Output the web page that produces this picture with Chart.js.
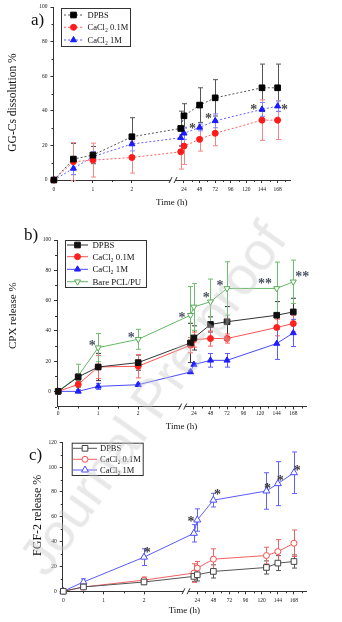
<!DOCTYPE html>
<html>
<head>
    <title>GG-Cs dissolution and release</title>
    <script src="https://cdn.jsdelivr.net/npm/chart.js"></script>
    <style>
        body {
            margin: 0;
            width: 342px;
            height: 622px;
            position: relative;
            overflow: hidden;
            background: #fff;
            font-family: "Liberation Serif", serif;
        }
        canvas {
            position: absolute;
            left: 0;
        }
        .tag {
            position: absolute;
            font: 17px "Liberation Serif", serif;
            color: #111;
            line-height: 1;
        }
        #mark {
            position: absolute;
            left: 152px;
            top: 398px;
            transform: translate(-50%, -50%) rotate(-54.5deg);
            font: 54px "Liberation Sans", sans-serif;
            color: rgba(200, 200, 200, 0.42);
            white-space: nowrap;
            pointer-events: none;
        }
    </style>
</head>
<body>
    <canvas id="chartA" width="342" height="210" style="top:0"></canvas>
    <canvas id="chartB" width="342" height="212" style="top:220px"></canvas>
    <canvas id="chartC" width="342" height="186" style="top:436px"></canvas>
    <div class="tag" style="left:31px; top:11px">a)</div>
    <div class="tag" style="left:24px; top:226px">b)</div>
    <div class="tag" style="left:29px; top:446px">c)</div>
    <div id="mark">Journal Pre-proof</div>

    <script>
        // shared time axis
        const xTickHours = [0, 1, 2, 24, 48, 72, 96, 120, 144, 168];
        const xTickLabels = ["0", "1", "2", "24", "48", "72", "96", "120", "144", "168"];
        const xMinorHours = [0.5, 1.5, 36, 60, 84, 108, 132, 156, 180];
        const seriesNames = ["DPBS", "CaCl\u2082 0.1M", "CaCl\u2082 1M"];
        const bareName = "Bare PCL/PU";

        // a) GG-Cs dissolution %
        const hoursA = [0, 0.5, 1, 2, 19, 24, 48, 72, 144, 168];
        const dpbsA = [0, 12.1, 14.4, 25, 29.8, 37.1, 43.3, 47.5, 53.3, 53.3];
        const dpbsErrA = [0, 9, 5, 11, 10, 7, 10, 10.5, 13.7, 13.7];
        const ca01A = [0, 10.6, 11.5, 13, 16.3, 19.6, 23.5, 27, 34.6, 34.6];
        const ca01ErrA = [0, 11, 9.8, 9, 10, 10.6, 6.8, 7.2, 11.7, 11.2];
        const ca1A = [0, 6.7, 13.5, 20.8, 24.4, 27, 30.4, 34.2, 40.8, 42.7];
        const ca1ErrA = [0, 3.5, 3, 4, 5, 3.5, 2, 4, 4, 3];
        const starIdxA = [6, 7, 8, 9];
        const starTextA = ["*", "*", "*", "*"];

        // b) CPX release %
        const hoursB = [0, 0.5, 1, 2, 19, 24, 48, 72, 144, 168];
        const dpbsB = [0, 9.5, 16.1, 19, 32, 35.3, 44.2, 46, 50.3, 52.5];
        const dpbsErrB = [0, 2, 9, 5, 13, 8, 5, 10, 9, 9];
        const ca01B = [0, 4.6, 16.1, 16.6, 30.5, 34.2, 34.9, 34.9, 42.2, 44.8];
        const ca01ErrB = [0, 2, 7.7, 7.7, 5, 5, 5, 3, 5.5, 5.5];
        const ca1B = [0, 0, 3.3, 4.4, 12.8, 17.7, 20.5, 20.5, 31.6, 38.6];
        const ca1ErrB = [0, 1, 2, 1, 1, 1, 4.5, 4.5, 10.5, 9];
        const bareB = [0, 10.2, 28.9, 34.4, 50.3, 55.8, 59.2, 68, 68, 72.4];
        const bareErrB = [0, 7.7, 9.3, 6.6, 19, 15.5, 15, 17.6, 17.4, 14.3];
        const starIdxB = [2, 3, 4, 6, 7, 8, 9];
        const starTextB = ["*", "*", "*", "*", "*", "**", "**"];

        // c) FGF-2 release %
        const hoursC = [0, 0.5, 2, 19, 24, 48, 127, 144, 168];
        const dpbsC = [0, 3.5, 7.5, 12, 13.3, 16, 19.2, 22.7, 24];
        const dpbsErrC = [0, 1.5, 2, 4, 5, 5.3, 5.3, 6, 5.3];
        const ca01C = [0, 3.5, 9, 14.7, 18.7, 25.9, 28.8, 32, 38.7];
        const ca01ErrC = [0, 1.5, 2.5, 7.5, 5.3, 8.3, 6.7, 9.6, 10.7];
        const ca1C = [0, 7.5, 27.5, 46.7, 57.4, 73.4, 80.8, 86.7, 95.5];
        const ca1ErrC = [0, 2.5, 6.7, 7, 9, 5.5, 14.7, 17.7, 16.7];
        const starIdxC = [2, 4, 5, 6, 7, 8];
        const starTextC = ["*", "*", "*", "*", "*", "*"];

        const serif = '"Liberation Serif", serif';
        const tickFont = { family: serif, size: 5.5 };

        // broken time axis: 0-2 h linear, then 24 h steps after the gap
        function hourToU(t, ax) {
            return t <= 2 ? t : ax.gap + (t - 24) / 24 * ax.step;
        }

        function points(hours, values, ax) {
            return hours.map((h, i) => ({ x: hourToU(h, ax), y: values[i] }));
        }

        const errorBars = {
            id: "errorBars",
            beforeDatasetsDraw(chart) {
                const ctx = chart.ctx;
                const yScale = chart.scales.y;
                chart.data.datasets.forEach((ds, i) => {
                    if (!ds.err) return;
                    const meta = chart.getDatasetMeta(i);
                    ctx.save();
                    ctx.strokeStyle = ds.errColor;
                    ctx.lineWidth = 1;
                    meta.data.forEach((pt, j) => {
                        const e = ds.err[j];
                        if (!e) return;
                        const v = ds.data[j].y;
                        const top = yScale.getPixelForValue(v + e);
                        const bot = yScale.getPixelForValue(v - e);
                        const x = Math.round(pt.x) + 0.5;
                        ctx.beginPath();
                        ctx.moveTo(x, top); ctx.lineTo(x, bot);
                        ctx.moveTo(x - 2.5, top); ctx.lineTo(x + 2.5, top);
                        ctx.moveTo(x - 2.5, bot); ctx.lineTo(x + 2.5, bot);
                        ctx.stroke();
                    });
                    ctx.restore();
                });
            }
        };

        // minor ticks, the "//" axis break and the y title
        const axisExtras = {
            id: "axisExtras",
            afterDraw(chart, args, o) {
                const ctx = chart.ctx;
                const xs = chart.scales.x, ys = chart.scales.y;
                const area = chart.chartArea;
                ctx.save();
                ctx.strokeStyle = "#333";
                ctx.lineWidth = 1;
                ctx.beginPath();
                o.minorX.forEach(u => {
                    if (u > xs.max) return;
                    const px = Math.round(xs.getPixelForValue(u)) + 0.5;
                    ctx.moveTo(px, area.bottom); ctx.lineTo(px, area.bottom + 2);
                });
                o.minorY.forEach(v => {
                    const py = Math.round(ys.getPixelForValue(v)) + 0.5;
                    ctx.moveTo(area.left, py); ctx.lineTo(area.left - 2, py);
                });
                ctx.stroke();

                const bx = xs.getPixelForValue(o.breakU);
                const by = area.bottom;
                ctx.fillStyle = "#fff";
                ctx.fillRect(bx - 2, by - 2, 4, 4);
                ctx.beginPath();
                ctx.moveTo(bx - 4, by + 3); ctx.lineTo(bx - 1, by - 3);
                ctx.moveTo(bx + 1, by + 3); ctx.lineTo(bx + 4, by - 3);
                ctx.stroke();

                ctx.translate(o.titleX, (area.top + area.bottom) / 2 + o.titleShift);
                ctx.rotate(-Math.PI / 2);
                ctx.fillStyle = "#111";
                ctx.font = o.titleSize + "px " + serif;
                ctx.textAlign = "center";
                ctx.textBaseline = "middle";
                ctx.fillText(o.title, 0, 0);
                ctx.restore();
            }
        };

        const boxLegend = {
            id: "boxLegend",
            afterDraw(chart, args, o) {
                const ctx = chart.ctx;
                ctx.save();
                ctx.strokeStyle = "#333";
                ctx.lineWidth = 1;
                ctx.strokeRect(o.box[0] + 0.5, o.box[1] + 0.5, o.box[2], o.box[3]);
                chart.data.datasets.forEach((ds, i) => {
                    const y = o.rows[i];
                    ctx.strokeStyle = ds.borderColor;
                    ctx.setLineDash(ds.borderDash || []);
                    ctx.beginPath();
                    ctx.moveTo(o.line[0], y); ctx.lineTo(o.line[1], y);
                    ctx.stroke();
                    ctx.setLineDash([]);
                    ctx.fillStyle = ds.pointBackgroundColor;
                    ctx.strokeStyle = ds.pointBorderColor;
                    ctx.lineWidth = ds.pointBorderWidth;
                    Chart.helpers.drawPoint(ctx, {
                        pointStyle: ds.pointStyle,
                        rotation: ds.pointRotation || 0,
                        radius: ds.pointRadius,
                        borderWidth: ds.pointBorderWidth
                    }, (o.line[0] + o.line[1]) / 2, y);
                    ctx.lineWidth = 1;
                    ctx.fillStyle = "#111";
                    ctx.font = o.fontSize + "px " + serif;
                    ctx.textBaseline = "middle";
                    ctx.fillText(ds.label, o.textX, y + 0.5);
                });
                ctx.restore();
            }
        };

        const stars = {
            id: "stars",
            afterDatasetsDraw(chart, args, o) {
                const ctx = chart.ctx;
                const meta = chart.getDatasetMeta(o.ds);
                ctx.save();
                ctx.fillStyle = o.color;
                ctx.font = "bold 14px " + serif;
                ctx.textAlign = "center";
                ctx.textBaseline = "alphabetic";
                o.idx.forEach((j, k) => {
                    const pt = meta.data[j];
                    const m = ctx.measureText(o.text[k]);
                    const mid = (m.actualBoundingBoxAscent - m.actualBoundingBoxDescent) / 2;
                    ctx.fillText(o.text[k], pt.x + o.off[k][0], pt.y + o.off[k][1] + mid);
                });
                ctx.restore();
            }
        };

        function series(label, hours, values, err, ax, st) {
            return Object.assign({
                label: label,
                data: points(hours, values, ax),
                err: err,
                borderWidth: 1,
                tension: 0,
                clip: false,
                pointBorderWidth: 1
            }, st);
        }

        function makePanel(id, ax, datasets, extras) {
            new Chart(document.getElementById(id), {
                type: "line",
                data: { datasets: datasets },
                options: {
                    responsive: false,
                    animation: false,
                    devicePixelRatio: 1,
                    events: [],
                    layout: { padding: { top: ax.padTop, right: ax.padRight, left: 0, bottom: 0 } },
                    plugins: {
                        legend: { display: false },
                        tooltip: { enabled: false },
                        axisExtras: {
                            minorX: xMinorHours.map(h => hourToU(h, ax)),
                            minorY: ax.minorY,
                            breakU: ax.gap - 0.28,
                            title: ax.title,
                            titleX: ax.titleX,
                            titleShift: ax.titleShift,
                            titleSize: ax.titleSize
                        },
                        boxLegend: extras.legend,
                        stars: extras.stars
                    },
                    scales: {
                        x: {
                            type: "linear",
                            min: ax.uMin,
                            max: ax.uMax,
                            afterBuildTicks: s => { s.ticks = xTickHours.map(h => ({ value: hourToU(h, ax) })); },
                            afterFit: s => { s.height = ax.xH; },
                            ticks: {
                                callback: (v, i) => xTickLabels[i],
                                autoSkip: false,
                                maxRotation: 0,
                                padding: ax.xPad,
                                font: tickFont,
                                color: "#222"
                            },
                            grid: { drawOnChartArea: false, tickLength: 3, color: "#333" },
                            border: { color: "#333" },
                            title: {
                                display: true,
                                text: "Time (h)",
                                color: "#111",
                                font: { family: serif, size: 9 },
                                padding: { top: 0, bottom: ax.xTitlePad }
                            }
                        },
                        y: {
                            min: ax.yMin,
                            max: ax.yMax,
                            afterBuildTicks: s => { s.ticks = ax.yTicks.map(v => ({ value: v })); },
                            afterFit: s => { s.width = ax.yW; },
                            ticks: { padding: 3, font: tickFont, color: "#222" },
                            grid: { drawOnChartArea: false, tickLength: 3, color: "#333" },
                            border: { color: "#333" }
                        }
                    }
                },
                plugins: [errorBars, axisExtras, boxLegend, stars]
            });
        }

        // ---- a) ----
        const axA = {
            gap: 3.336, step: 0.4, uMin: -0.01, uMax: 6.054,
            yMin: 0, yMax: 100, yTicks: [0, 20, 40, 60, 80, 100], minorY: [10, 30, 50, 70, 90],
            padTop: 7, padRight: 52, yW: 53.5, xH: 30, xPad: 3, xTitlePad: 1.9,
            title: "GG-Cs dissolution %", titleX: 13, titleShift: 9, titleSize: 11.5
        };
        makePanel("chartA", axA, [
            series(seriesNames[0], hoursA, dpbsA, dpbsErrA, axA, {
                borderColor: "#555", borderDash: [2, 2], errColor: "#555",
                pointStyle: "rect", pointRadius: 4, pointBackgroundColor: "#000", pointBorderColor: "#000"
            }),
            series(seriesNames[1], hoursA, ca01A, ca01ErrA, axA, {
                borderColor: "#ff6060", borderDash: [2, 2], errColor: "#f48585",
                pointStyle: "circle", pointRadius: 3, pointBackgroundColor: "#ff1a1a", pointBorderColor: "#ff1a1a"
            }),
            series(seriesNames[2], hoursA, ca1A, ca1ErrA, axA, {
                borderColor: "#6060ff", borderDash: [2, 2], errColor: "#8585ff",
                pointStyle: "triangle", pointRadius: 3.5, pointBackgroundColor: "#1a1aff", pointBorderColor: "#1a1aff"
            })
        ], {
            legend: { box: [61, 8, 69, 38], rows: [15, 27.3, 40], line: [64, 83], textX: 87.5, fontSize: 8.5 },
            stars: {
                ds: 2, idx: starIdxA, text: starTextA, color: "#4a4a4a",
                off: [[-7, -1.7], [-6.7, -4.4], [-8.3, -2.6], [7, 0.7]]
            }
        });

        // ---- b) ----
        const axB = {
            gap: 3.393, step: 0.414, uMin: -0.03, uMax: 6.195,
            yMin: -10, yMax: 100, yTicks: [0, 20, 40, 60, 80, 100], minorY: [-10, 10, 30, 50, 70, 90],
            padTop: 20, padRight: 36, yW: 57, xH: 25.5, xPad: 1, xTitlePad: 0,
            title: "CPX release %", titleX: 13, titleShift: -7.5, titleSize: 11
        };
        makePanel("chartB", axB, [
            series(seriesNames[0], hoursB, dpbsB, dpbsErrB, axB, {
                borderColor: "#333", errColor: "#333",
                pointStyle: "rect", pointRadius: 4, pointBackgroundColor: "#111", pointBorderColor: "#111"
            }),
            series(seriesNames[1], hoursB, ca01B, ca01ErrB, axB, {
                borderColor: "#ff5050", errColor: "#ff6060",
                pointStyle: "circle", pointRadius: 3, pointBackgroundColor: "#ff2020", pointBorderColor: "#ff2020"
            }),
            series(seriesNames[2], hoursB, ca1B, ca1ErrB, axB, {
                borderColor: "#4848ff", errColor: "#5a5aff",
                pointStyle: "triangle", pointRadius: 3.5, pointBackgroundColor: "#2020ff", pointBorderColor: "#2020ff"
            }),
            series(bareName, hoursB, bareB, bareErrB, axB, {
                borderColor: "#66b866", errColor: "#6cbf6c",
                pointStyle: "triangle", pointRotation: 180, pointRadius: 3.5,
                pointBackgroundColor: "#fff", pointBorderColor: "#55aa55"
            })
        ], {
            legend: { box: [65, 20, 81, 47], rows: [25, 36.7, 49.3, 61.7], line: [67, 88], textX: 92.5, fontSize: 8.8 },
            stars: {
                ds: 3, idx: starIdxB, text: starTextB, color: "#4b5263",
                off: [[-6, -5], [-7, -4], [-8.4, 0], [-4.3, -6.7], [-7, -5.6], [-11.7, -7.3], [9, -7.3]]
            }
        });

        // ---- c) ----
        const axC = {
            gap: 3.32, step: 0.3995, uMin: -0.015, uMax: 6.015,
            yMin: 0, yMax: 120, yTicks: [0, 20, 40, 60, 80, 100, 120], minorY: [10, 30, 50, 70, 90, 110],
            padTop: 5.3, padRight: 36, yW: 62.7, xH: 30.7, xPad: 2.5, xTitlePad: 5.6,
            title: "FGF-2 release %", titleX: 38, titleShift: -1.5, titleSize: 12
        };
        makePanel("chartC", axC, [
            series(seriesNames[0], hoursC, dpbsC, dpbsErrC, axC, {
                borderColor: "#555", errColor: "#555",
                pointStyle: "rect", pointRadius: 4, pointBackgroundColor: "#fff", pointBorderColor: "#444"
            }),
            series(seriesNames[1], hoursC, ca01C, ca01ErrC, axC, {
                borderColor: "#f06262", errColor: "#f06262",
                pointStyle: "circle", pointRadius: 3, pointBackgroundColor: "#fff", pointBorderColor: "#ff4a4a"
            }),
            series(seriesNames[2], hoursC, ca1C, ca1ErrC, axC, {
                borderColor: "#5a5aff", errColor: "#6060ff",
                pointStyle: "triangle", pointRadius: 4, pointBackgroundColor: "#fff", pointBorderColor: "#4a4aff"
            })
        ], {
            legend: { box: [71.7, 6.7, 71, 32.3], rows: [12.3, 23.3, 34], line: [73, 97], textX: 100, fontSize: 8.5 },
            stars: {
                ds: 2, idx: starIdxC, text: starTextC, color: "#3a3a3a",
                off: [[3.3, -7], [-6.3, -1], [4, -7.7], [1, -5], [2.4, -6], [3.3, -5]]
            }
        });
    </script>
</body>
</html>
